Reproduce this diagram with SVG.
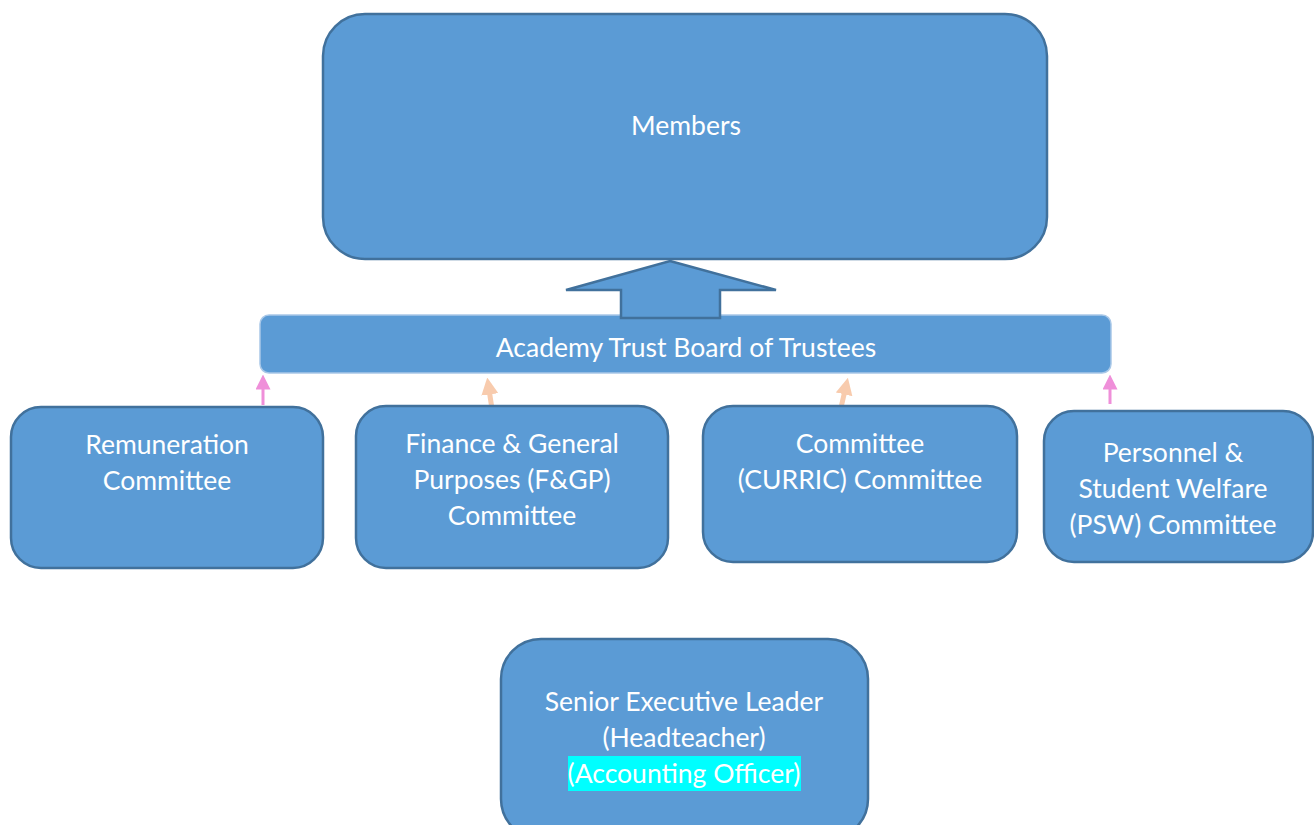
<svg xmlns="http://www.w3.org/2000/svg" width="1314" height="825" viewBox="0 0 1314 825">
<defs>
<style>
.box{fill:#5b9bd5;stroke:#41719c;stroke-width:2.5}
.board{fill:#5b9bd5;stroke:#a9c8e8;stroke-width:1.5}
.t{font-family:Lato,"Liberation Sans",sans-serif;font-size:26.5px;fill:#ffffff;text-anchor:middle}
.pink{stroke:#ef8fd9;stroke-width:3;fill:none}
.peach{stroke:#f8cbad;stroke-width:5;fill:none}
</style>
<marker id="mpink" viewBox="0 0 10 10" refX="5" refY="5" markerWidth="5" markerHeight="5" orient="auto" markerUnits="strokeWidth"><path d="M0,0 L10,5 L0,10 z" fill="#ef8fd9"/></marker>
<marker id="mpeach" viewBox="0 0 10 10" refX="5" refY="5" markerWidth="3.4" markerHeight="3.4" orient="auto" markerUnits="strokeWidth"><path d="M0,0 L10,5 L0,10 z" fill="#f8cbad"/></marker>
</defs>
<rect width="1314" height="825" fill="#ffffff"/>

<g id="members">
<rect class="box" x="323" y="14" width="724" height="245" rx="42"/>
<text class="t" x="686" y="135">Members</text>
</g>

<g id="board">
<rect class="board" x="260" y="315" width="851" height="58" rx="9"/>
<text class="t" x="686" y="357">Academy Trust Board of Trustees</text>
</g>

<g id="connectors">
<path class="box" d="M670,261 L776,290 L720,290 L720,318 L621,318 L621,290 L566,290 Z"/>
<line class="pink" x1="263" y1="405" x2="263" y2="382" marker-end="url(#mpink)"/>
<line class="peach" x1="492" y1="409" x2="488.5" y2="386" marker-end="url(#mpeach)"/>
<line class="peach" x1="840" y1="412" x2="846" y2="386" marker-end="url(#mpeach)"/>
<line class="pink" x1="1110" y1="404" x2="1110" y2="382" marker-end="url(#mpink)"/>
</g>

<g id="remuneration">
<rect class="box" x="11" y="407" width="312" height="161" rx="30"/>
<text class="t" x="167" y="454">Remuneration</text>
<text class="t" x="167" y="490">Committee</text>
</g>

<g id="finance">
<rect class="box" x="356" y="406" width="312" height="162" rx="30"/>
<text class="t" x="512" y="453">Finance &amp; General</text>
<text class="t" x="512" y="489">Purposes (F&amp;GP)</text>
<text class="t" x="512" y="525">Committee</text>
</g>

<g id="curric">
<rect class="box" x="703" y="406" width="314" height="156" rx="30"/>
<text class="t" x="860" y="453">Committee</text>
<text class="t" x="860" y="489">(CURRIC) Committee</text>
</g>

<g id="psw">
<rect class="box" x="1044" y="411" width="269" height="151" rx="30"/>
<text class="t" x="1173" y="462">Personnel &amp;</text>
<text class="t" x="1173" y="498">Student Welfare</text>
<text class="t" x="1173" y="534">(PSW) Committee</text>
</g>

<g id="senior">
<rect class="box" x="501" y="639" width="367" height="200" rx="40"/>
<rect x="568" y="756" width="233" height="35" fill="#00ffff"/>
<text class="t" x="684" y="711">Senior Executive Leader</text>
<text class="t" x="684" y="747">(Headteacher)</text>
<text class="t" x="684" y="783">(Accounting Officer)</text>
</g>
</svg>
